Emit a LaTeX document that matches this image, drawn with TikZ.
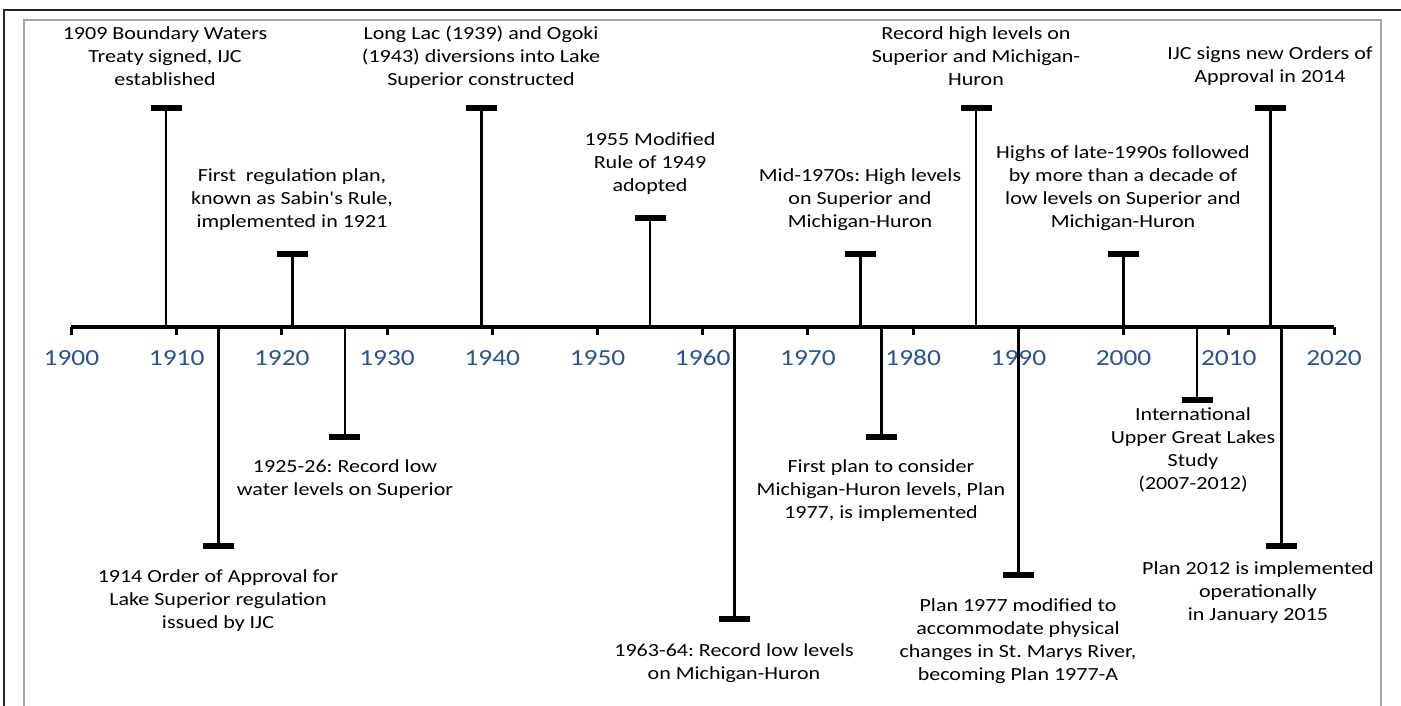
\documentclass[tikz,border=0pt]{standalone}
\usepackage{fontspec}
\setmainfont{Carlito}
\usepackage{graphicx}
\frenchspacing
\definecolor{yearblue}{RGB}{41,84,140}
\definecolor{framegrey}{RGB}{165,165,165}
\newcommand\evtxt[1]{\scalebox{1.19}[1]{\begin{tabular}{@{}c@{}}#1\end{tabular}}}
\begin{document}
\begin{tikzpicture}[x=1pt,y=-1pt,
  barbox/.style={fill=black,draw=none,minimum width=31pt,minimum height=6pt,inner sep=0pt,outer sep=0pt},
  stemline/.style={line width=2.6pt},
  axisline/.style={line width=3.5pt},
  tickline/.style={line width=3pt},
  evtext/.style={inner sep=0pt,font=\fontsize{18.5}{23}\selectfont\frenchspacing},
  yrtext/.style={inner sep=0pt,text=yearblue,font=\fontsize{23}{27}\selectfont}]
\useasboundingbox (0,0) rectangle (1401,705);
\clip (0,0) rectangle (1401,705);
% frames
\draw[line width=2pt,black!85] (3.5,740) -- (3.5,9.5) -- (1440,9.5);
\draw[line width=1.5pt,framegrey] (24,740) -- (24,20) -- (1381,20) -- (1381,740);
% axis
\coordinate (ax0) at (71.4,327);
\coordinate (ax1) at (1334,327);
\foreach \i in {0,...,12}{
  \pgfmathsetmacro{\xx}{71.4+105.22*\i}
  \pgfmathtruncatemacro{\yy}{1900+10*\i}
  \coordinate (t\i) at (\xx,327);
  \coordinate (tb\i) at (\xx,334.5);
  \draw[tickline] (t\i) -- (tb\i);
  \node[yrtext] (y\i) at (\xx,358) {\scalebox{1.19}[1]{\yy}};
}
\draw[axisline] (ax0) -- (ax1);
% events: axis point, bar, text
% above
\coordinate (a1) at (166.1,327);  \node[barbox] (b1) at (166.1,108) {};
\coordinate (a2) at (292.3,327);  \node[barbox] (b2) at (292.3,254) {};
\coordinate (a3) at (481.7,327);  \node[barbox] (b3) at (481.7,108) {};
\coordinate (a4) at (650.0,327);  \node[barbox] (b4) at (650.0,218) {};
\coordinate (a5) at (860.4,327);  \node[barbox] (b5) at (860.4,254) {};
\coordinate (a6) at (976.1,327);  \node[barbox] (b6) at (976.1,108) {};
\coordinate (a7) at (1123.4,327); \node[barbox] (b7) at (1123.4,254) {};
\coordinate (a8) at (1270.7,327); \node[barbox] (b8) at (1270.7,108) {};
% below
\coordinate (a9) at (218.7,327);  \node[barbox] (b9) at (218.7,546) {};
\coordinate (a10) at (344.9,327); \node[barbox] (b10) at (344.9,436.7) {};
\coordinate (a11) at (734.2,327); \node[barbox] (b11) at (734.2,618.7) {};
\coordinate (a12) at (881.4,327); \node[barbox] (b12) at (881.4,436.7) {};
\coordinate (a13) at (1018.2,327);\node[barbox] (b13) at (1018.2,575) {};
\coordinate (a14) at (1197.0,327);\node[barbox] (b14) at (1197.0,400) {};
\coordinate (a15) at (1281.2,327);\node[barbox] (b15) at (1281.2,546) {};
\foreach \k in {1,...,15}{\draw[stemline] (a\k) -- (b\k.center);}
% texts
\node[evtext] (e1) at (165,58) {\evtxt{1909 Boundary Waters\\Treaty signed, IJC\\established}};
\node[evtext] (e2) at (292,200) {\evtxt{First\ \ regulation plan,\\known as Sabin\textquotesingle s Rule,\\implemented in 1921}};
\node[evtext] (e3) at (481,58) {\evtxt{Long Lac (1939) and Ogoki\\(1943) diversions into Lake\\Superior constructed}};
\node[evtext] (e4) at (650,164) {\evtxt{1955 Modified\\Rule of 1949\\adopted}};
\node[evtext] (e5) at (860,200) {\evtxt{Mid-1970s: High levels\\on Superior and\\Michigan-Huron}};
\node[evtext] (e6) at (976,58) {\evtxt{Record high levels on\\Superior and Michigan-\\Huron}};
\node[evtext] (e7) at (1123,188.5) {\evtxt{Highs of late-1990s followed\\by more than a decade of\\low levels on Superior and\\Michigan-Huron}};
\node[evtext] (e8) at (1270,66.5) {\evtxt{IJC signs new Orders of\\Approval in 2014}};
\node[evtext] (e9) at (218,601) {\evtxt{1914 Order of Approval for\\Lake Superior regulation\\issued by IJC}};
\node[evtext] (e10) at (345,479.5) {\evtxt{1925-26: Record low\\water levels on Superior}};
\node[evtext] (e11) at (734,663.5) {\evtxt{1963-64: Record low levels\\on Michigan-Huron}};
\node[evtext] (e12) at (881,491) {\evtxt{First plan to consider\\Michigan-Huron levels, Plan\\1977, is implemented}};
\node[evtext] (e13) at (1018,641.5) {\evtxt{Plan 1977 modified to\\accommodate physical\\changes in St. Marys River,\\becoming Plan 1977-A}};
\node[evtext] (e14) at (1193,450.5) {\evtxt{International\\Upper Great Lakes\\Study\\(2007-2012)}};
\node[evtext] (e15) at (1258,592.5) {\evtxt{Plan 2012 is implemented\\operationally\\in January 2015}};
\end{tikzpicture}
\end{document}
